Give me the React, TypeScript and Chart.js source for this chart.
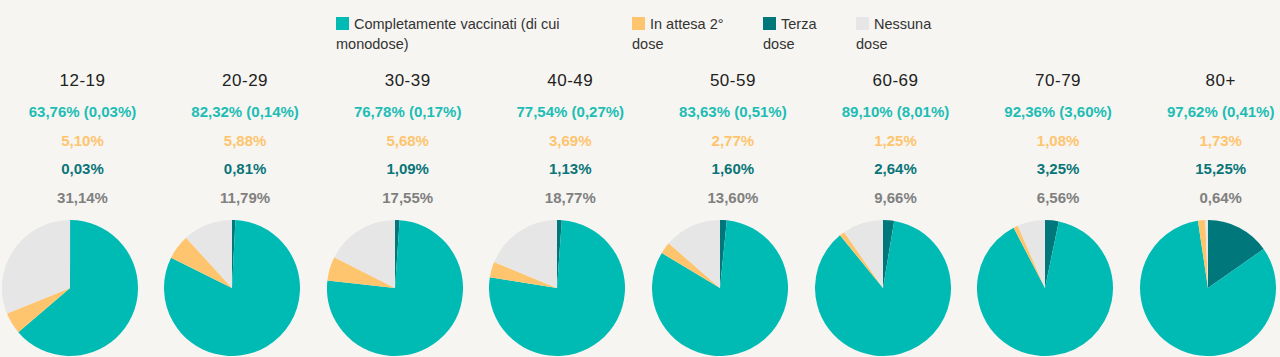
import React, { useEffect, useRef } from "react";
import { Chart, registerables } from "chart.js";

Chart.register(...registerables);

const ages = ["12-19", "20-29", "30-39", "40-49", "50-59", "60-69", "70-79", "80+"];
const completi = [63.76, 82.32, 76.78, 77.54, 83.63, 89.1, 92.36, 97.62];
const monodose = [0.03, 0.14, 0.17, 0.27, 0.51, 8.01, 3.6, 0.41];
const attesa = [5.1, 5.88, 5.68, 3.69, 2.77, 1.25, 1.08, 1.73];
const terza = [0.03, 0.81, 1.09, 1.13, 1.6, 2.64, 3.25, 15.25];
const nessuna = [31.14, 11.79, 17.55, 18.77, 13.6, 9.66, 6.56, 0.64];

const legendLabels = [
  ["Completamente vaccinati (di cui", "monodose)"],
  ["In attesa 2°", "dose"],
  ["Terza", "dose"],
  ["Nessuna", "dose"],
];

const C_TEAL = "#00bbb4";
const C_ORANGE = "#ffc46e";
const C_DARK = "#00777a";
const C_GREY = "#e6e6e6";
const T_TEAL = "#1dbdb5";
const T_ORANGE = "#ffc46e";
const T_DARK = "#0a7579";
const T_GREY = "#808080";

const legendColors = [C_TEAL, C_ORANGE, C_DARK, C_GREY];
const legendLeft = [336, 632, 763, 856];

const fmt = (v: number) => v.toFixed(2).replace(".", ",") + "%";

const PIE = 136;

function Pie({ idx }: { idx: number }) {
  const ref = useRef<HTMLCanvasElement>(null);
  useEffect(() => {
    if (!ref.current) return;
    const slices = [
      terza[idx],
      +(completi[idx] - terza[idx]).toFixed(2),
      attesa[idx],
      nessuna[idx],
    ];
    const chart = new Chart(ref.current, {
      type: "pie",
      data: {
        labels: ["Terza dose", "Completamente vaccinati", "In attesa 2° dose", "Nessuna dose"],
        datasets: [
          {
            data: slices,
            backgroundColor: [C_DARK, C_TEAL, C_ORANGE, C_GREY],
            borderWidth: 0,
          },
        ],
      },
      options: {
        animation: false,
        responsive: false,
        maintainAspectRatio: false,
        layout: { padding: 0 },
        plugins: { legend: { display: false }, tooltip: { enabled: false } },
      },
    });
    return () => chart.destroy();
  }, [idx]);
  return <canvas ref={ref} width={PIE} height={PIE} style={{ width: PIE, height: PIE }} />;
}

export default function App() {
  useEffect(() => {
    document.body.style.margin = "0";
    document.body.style.background = "#f6f5f1";
  }, []);

  const textCenter = (i: number) => 82.5 + 162.6 * i;
  const pieCenter = (i: number) => textCenter(i) - 13;
  const numRows = [
    { y: 112, color: T_TEAL, get: (i: number) => fmt(completi[i]) + " (" + fmt(monodose[i]) + ")" },
    { y: 141, color: T_ORANGE, get: (i: number) => fmt(attesa[i]) },
    { y: 169, color: T_DARK, get: (i: number) => fmt(terza[i]) },
    { y: 198, color: T_GREY, get: (i: number) => fmt(nessuna[i]) },
  ];

  return (
    <div
      style={{
        position: "relative",
        width: 1280,
        height: 357,
        overflow: "hidden",
        background: "#f6f5f1",
        fontFamily: "'Liberation Sans', Arial, sans-serif",
      }}
    >
      {legendLabels.map((lines, k) => (
        <div
          key={k}
          style={{
            position: "absolute",
            left: legendLeft[k],
            top: 14,
            fontSize: 14.5,
            lineHeight: "20px",
            color: "#333",
            whiteSpace: "nowrap",
          }}
        >
          <span
            style={{
              display: "inline-block",
              width: 13,
              height: 13,
              background: legendColors[k],
              marginRight: 5,
              verticalAlign: "-1px",
            }}
          />
          {lines[0]}
          <br />
          {lines[1]}
        </div>
      ))}

      {ages.map((a, i) => (
        <React.Fragment key={a}>
          <div
            style={{
              position: "absolute",
              left: textCenter(i) - 80,
              width: 160,
              top: 81 - 11,
              lineHeight: "22px",
              textAlign: "center",
              fontSize: 17,
              letterSpacing: 0.5,
              color: "#222",
            }}
          >
            {a}
          </div>
          {numRows.map((r, k) => (
            <div
              key={k}
              style={{
                position: "absolute",
                left: textCenter(i) - 80,
                width: 160,
                top: r.y - 10,
                lineHeight: "20px",
                textAlign: "center",
                fontSize: 15,
                fontWeight: "bold",
                color: r.color,
                whiteSpace: "nowrap",
              }}
            >
              {r.get(i)}
            </div>
          ))}
          <div
            style={{
              position: "absolute",
              left: pieCenter(i) - PIE / 2,
              top: 288 - PIE / 2,
              width: PIE,
              height: PIE,
            }}
          >
            <Pie idx={i} />
          </div>
        </React.Fragment>
      ))}
    </div>
  );
}
